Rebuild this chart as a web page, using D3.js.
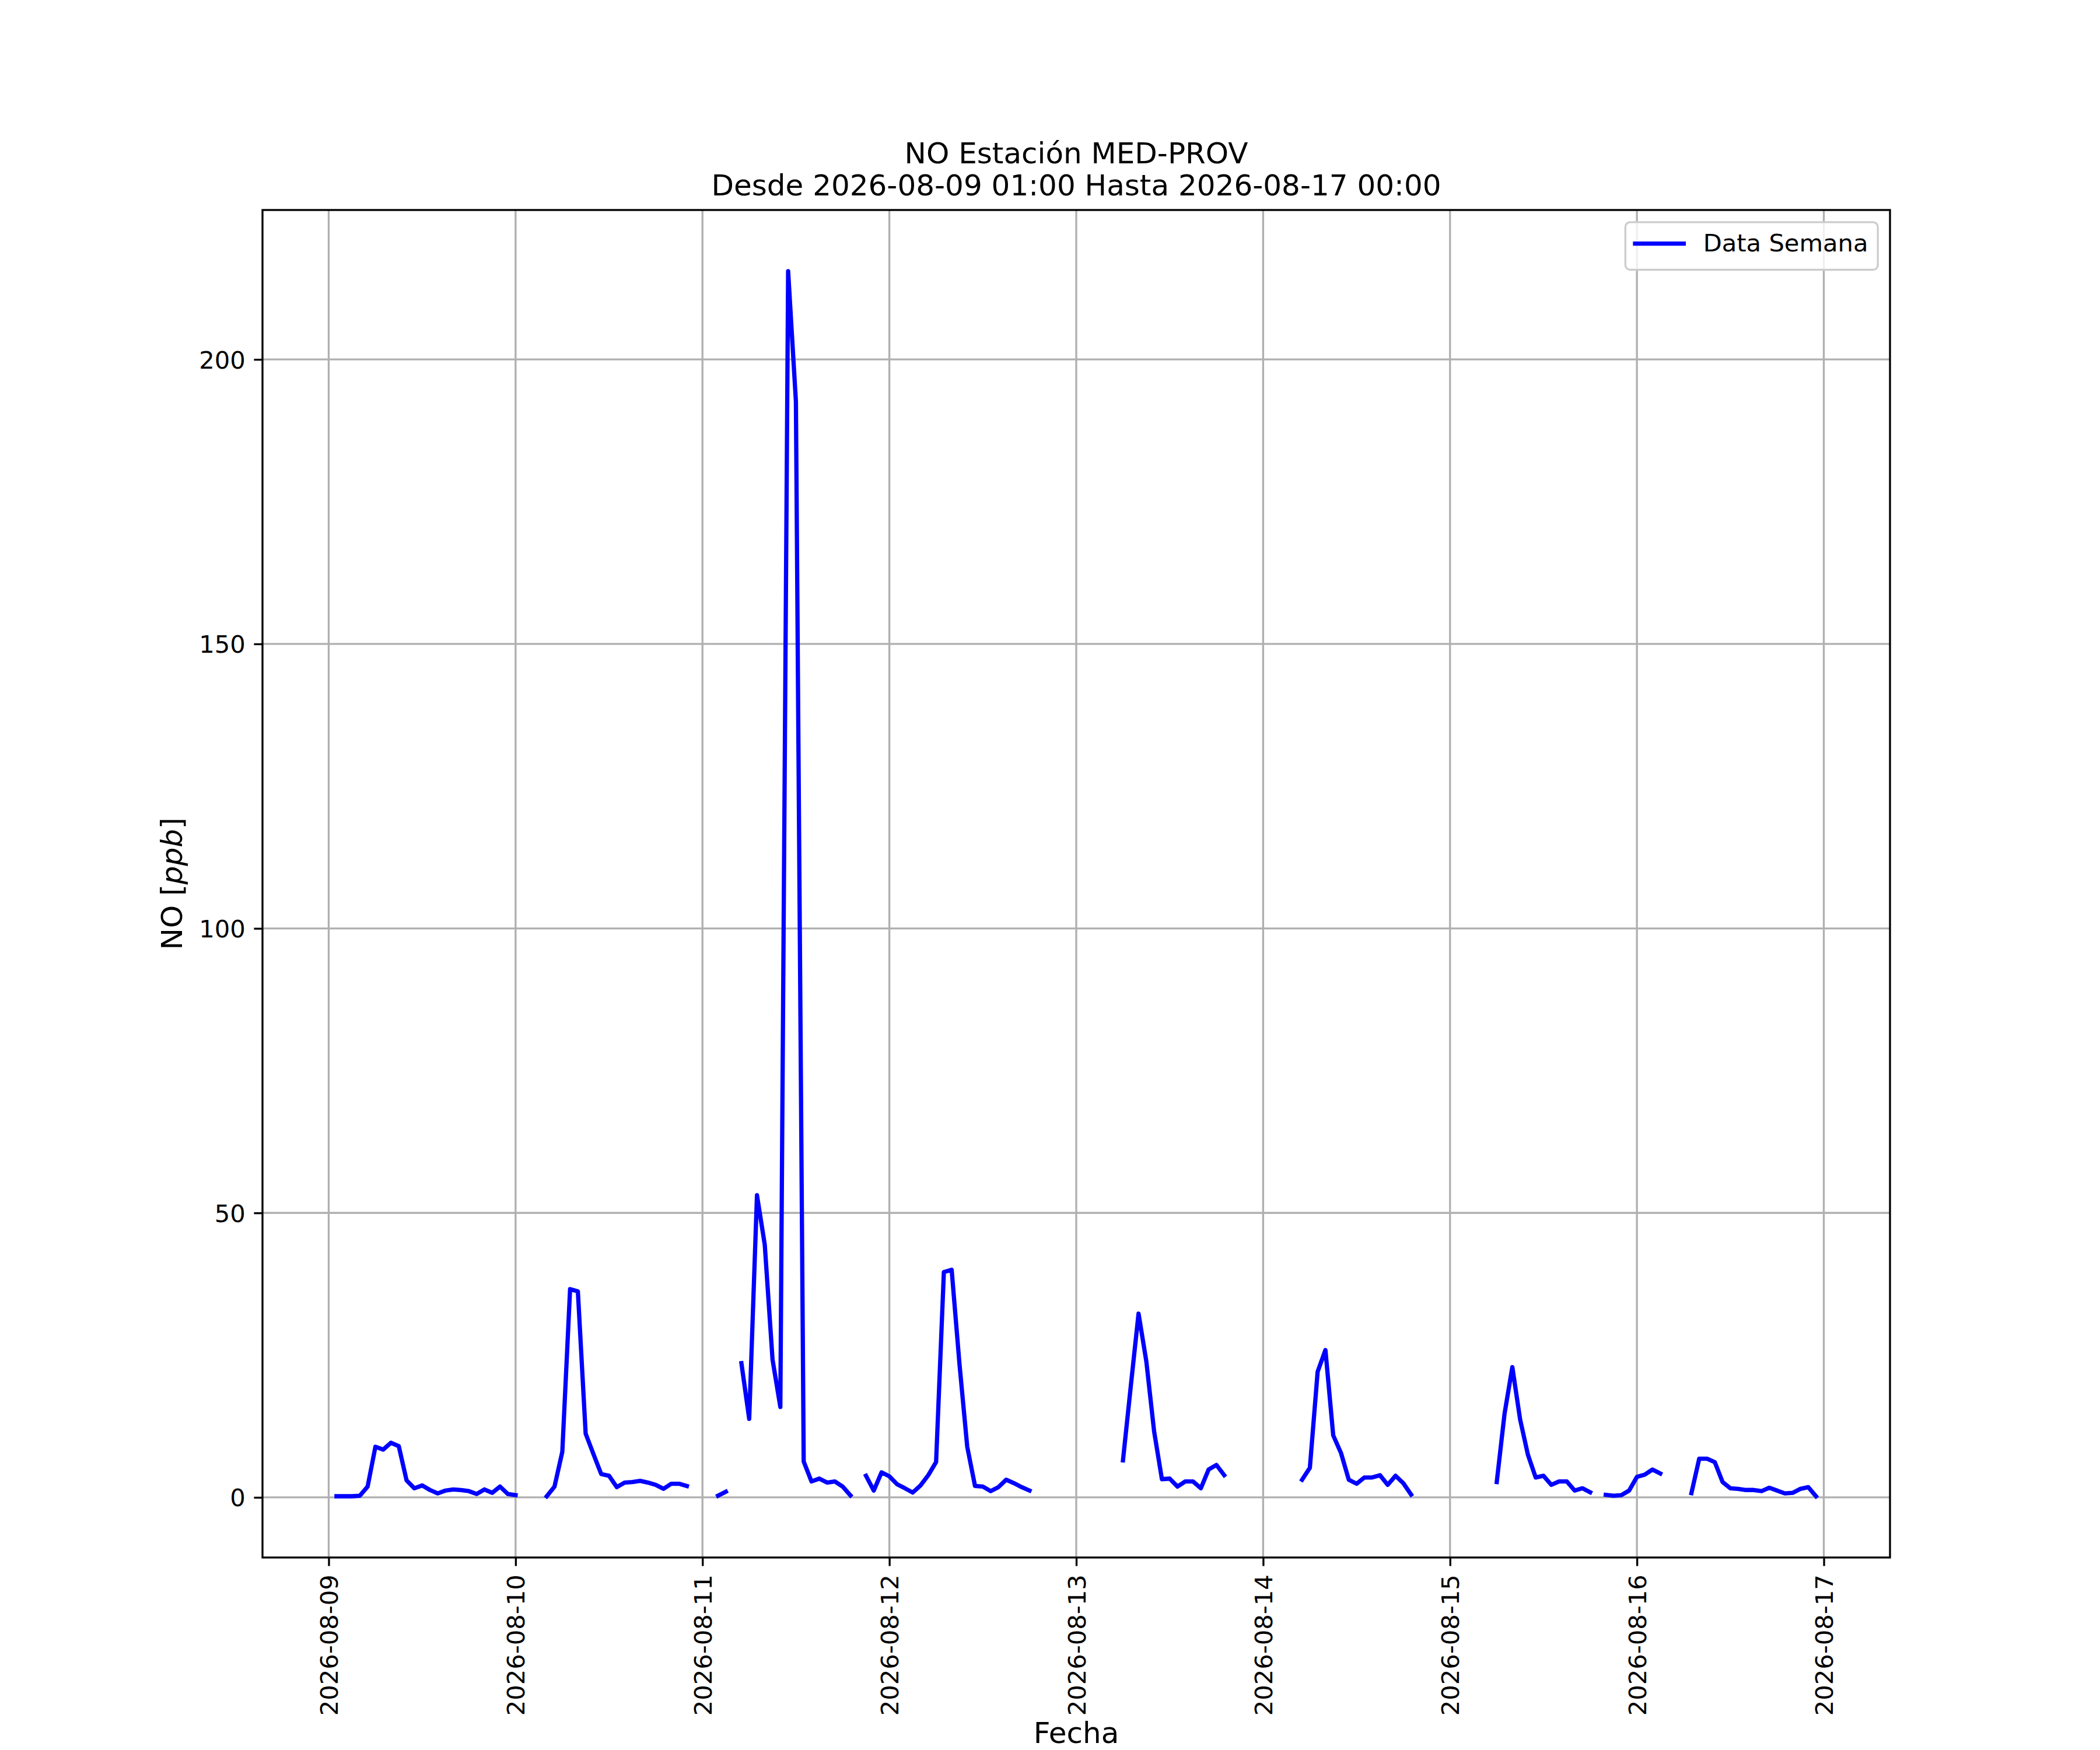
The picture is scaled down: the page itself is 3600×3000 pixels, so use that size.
<!DOCTYPE html>
<html>
<head>
<meta charset="utf-8">
<script src="https://cdn.jsdelivr.net/npm/d3@7"></script>
<style>
  html, body { margin: 0; padding: 0; background: #ffffff; }
  svg { display: block; }
</style>
</head>
<body>
<svg id="chart" width="3600" height="3000"></svg>
<script>
// ---- Data: hourly NO values (ppb), index = hour of day (0..23); null = missing ----
const day0809 = [null, 0.2, 0.2, 0.2, 0.3, 1.9, 8.9, 8.4, 9.6, 9.0, 3.0, 1.6, 2.1, 1.3, 0.7, 1.2, 1.4, 1.3, 1.1, 0.6, 1.4, 0.8, 1.9, 0.6];
const day0810 = [0.4, null, null, null, 0.2, 1.9, 8.0, 36.6, 36.2, 11.2, 7.6, 4.1, 3.8, 1.8, 2.6, 2.7, 2.9, 2.6, 2.2, 1.5, 2.4, 2.4, 2.0, null];
const day0811 = [null, null, 0.3, 1.0, null, 23.6, 13.8, 53.1, 44.4, 24.2, 15.9, 215.5, 192.6, 6.3, 2.8, 3.3, 2.6, 2.8, 1.9, 0.35, null, 3.8, 1.2, 4.4];
const day0812 = [3.7, 2.3, 1.6, 0.85, 2.1, 3.9, 6.2, 39.6, 40.0, 23.5, 8.9, 2.0, 1.9, 1.1, 1.8, 3.1, 2.5, 1.8, 1.2, null, null, null, null, null];
const day0813 = [null, null, null, null, null, null, 6.5, 19.5, 32.3, 23.9, 11.6, 3.2, 3.3, 1.9, 2.8, 2.8, 1.6, 4.9, 5.7, 3.9, null, null, null, null];
const day0814 = [null, null, null, null, null, 3.1, 5.2, 22.1, 25.9, 10.9, 7.8, 3.1, 2.4, 3.5, 3.5, 3.9, 2.2, 3.8, 2.5, 0.5, null, null, null, null];
const day0815 = [null, null, null, null, null, null, 2.7, 14.7, 22.9, 13.7, 7.5, 3.5, 3.8, 2.2, 2.8, 2.8, 1.2, 1.6, 0.9, null, 0.45, 0.3, 0.4, 1.2];
const day0816 = [3.6, 4.0, 4.9, 4.2, null, null, null, 0.75, 6.8, 6.8, 6.2, 2.7, 1.6, 1.5, 1.3, 1.3, 1.1, 1.7, 1.2, 0.7, 0.8, 1.5, 1.8, 0.2];

const dayDates = ["2026-08-09", "2026-08-10", "2026-08-11", "2026-08-12", "2026-08-13", "2026-08-14", "2026-08-15", "2026-08-16"];
const dayValues = [day0809, day0810, day0811, day0812, day0813, day0814, day0815, day0816];

const yTickValues = [0, 50, 100, 150, 200];
const xTickLabels = ["2026-08-09", "2026-08-10", "2026-08-11", "2026-08-12", "2026-08-13", "2026-08-14", "2026-08-15", "2026-08-16", "2026-08-17"];

const titleLines = ["NO Estación MED-PROV", "Desde 2026-08-09 01:00 Hasta 2026-08-17 00:00"];
const xLabel = "Fecha";
const legendLabel = "Data Semana";
const seriesStart = "2026-08-09T01:00:00Z";
const seriesEnd = "2026-08-16T23:00:00Z";

(function () {
// ---- Build the series ----
const parseDay = d3.utcParse("%Y-%m-%d");
const startT = new Date(seriesStart), endT = new Date(seriesEnd);
const series = [];
dayDates.forEach((ds, i) => {
  const base = parseDay(ds);
  dayValues[i].forEach((v, h) => {
    const t = d3.utcHour.offset(base, h);
    if (t >= startT && t <= endT) series.push({ t, v });
  });
});

// ---- Layout (figure 12x10 in @ 300 dpi) ----
const W = 3600, H = 3000;
const pt = 300 / 72;
const pL = 0.125 * W, pR = 0.9 * W, pT = 0.12 * H, pB = 0.89 * H;
const fsTick = 10 * pt, fsLabel = 12 * pt, fsTitle = 12 * pt, fsLegend = 10 * pt;
const lwAxis = 0.8 * pt, tickLen = 3.5 * pt, tickPad = 3.5 * pt;
const font = "'DejaVu Sans', sans-serif";

// matplotlib-like 5% margins
const tSpan = endT - startT;
const x = d3.scaleUtc()
  .domain([new Date(+startT - 0.05 * tSpan), new Date(+endT + 0.05 * tSpan)])
  .range([pL, pR]);
const vals = series.filter(d => d.v != null).map(d => d.v);
const vMin = d3.min(vals), vMax = d3.max(vals), vSpan = vMax - vMin;
const y = d3.scaleLinear()
  .domain([vMin - 0.05 * vSpan, vMax + 0.05 * vSpan])
  .range([pB, pT]);

const svg = d3.select("#chart");
svg.append("rect").attr("width", W).attr("height", H).attr("fill", "#ffffff");

const xTicks = xTickLabels.map(s => parseDay(s));

// ---- Grid ----
const grid = svg.append("g").attr("class", "grid");
grid.selectAll("line.gx").data(xTicks).join("line")
  .attr("x1", d => x(d)).attr("x2", d => x(d))
  .attr("y1", pT).attr("y2", pB)
  .attr("stroke", "#b0b0b0").attr("stroke-width", lwAxis);
grid.selectAll("line.gy").data(yTickValues).join("line")
  .attr("x1", pL).attr("x2", pR)
  .attr("y1", d => y(d)).attr("y2", d => y(d))
  .attr("stroke", "#b0b0b0").attr("stroke-width", lwAxis);

// ---- Data line ----
svg.append("clipPath").attr("id", "plotclip")
  .append("rect").attr("x", pL).attr("y", pT).attr("width", pR - pL).attr("height", pB - pT);
const line = d3.line()
  .defined(d => d.v != null)
  .x(d => x(d.t))
  .y(d => y(d.v));
svg.append("path")
  .datum(series)
  .attr("clip-path", "url(#plotclip)")
  .attr("d", line)
  .attr("fill", "none")
  .attr("stroke", "#0000ff")
  .attr("stroke-width", 7.3)
  .attr("stroke-linejoin", "round")
  .attr("stroke-linecap", "square");

// ---- Spines ----
svg.append("rect")
  .attr("x", pL).attr("y", pT).attr("width", pR - pL).attr("height", pB - pT)
  .attr("fill", "none").attr("stroke", "#000000").attr("stroke-width", lwAxis);

// ---- X axis ----
const xAxis = d3.axisBottom(x)
  .tickValues(xTicks)
  .tickFormat(d3.utcFormat("%Y-%m-%d"))
  .tickSize(tickLen)
  .tickSizeOuter(0)
  .tickPadding(tickPad);
const gx = svg.append("g").attr("transform", `translate(0,${pB})`).call(xAxis);
gx.select(".domain").remove();
gx.selectAll(".tick line").attr("stroke", "#000").attr("stroke-width", lwAxis);
gx.selectAll(".tick text")
  .attr("font-family", font).attr("font-size", fsTick).attr("fill", "#000")
  .attr("text-anchor", "end")
  .attr("dy", null)
  .attr("y", null).attr("x", null)
  .attr("transform", `translate(${0.36 * fsTick},${tickLen + tickPad}) rotate(-90)`);

// ---- Y axis ----
const yAxis = d3.axisLeft(y)
  .tickValues(yTickValues)
  .tickFormat(d3.format("d"))
  .tickSize(tickLen)
  .tickSizeOuter(0)
  .tickPadding(tickPad);
const gy = svg.append("g").attr("transform", `translate(${pL},0)`).call(yAxis);
gy.select(".domain").remove();
gy.selectAll(".tick line").attr("stroke", "#000").attr("stroke-width", lwAxis);
gy.selectAll(".tick text")
  .attr("font-family", font).attr("font-size", fsTick).attr("fill", "#000")
  .attr("dy", "0.36em");

// ---- Axis labels ----
svg.append("text")
  .attr("x", (pL + pR) / 2).attr("y", 2988)
  .attr("text-anchor", "middle")
  .attr("font-family", font).attr("font-size", fsLabel).attr("fill", "#000")
  .text(xLabel);

const yl = svg.append("text")
  .attr("transform", `translate(312,${(pT + pB) / 2}) rotate(-90)`)
  .attr("text-anchor", "middle")
  .attr("font-family", font).attr("font-size", fsLabel).attr("fill", "#000");
yl.append("tspan").text("NO [");
yl.append("tspan").attr("font-style", "italic").text("ppb");
yl.append("tspan").text("]");

// ---- Title ----
const titleG = svg.append("g");
titleLines.forEach((s, i) => {
  titleG.append("text")
    .attr("x", (pL + pR) / 2)
    .attr("y", pT - 6 * pt - (titleLines.length - 1 - i) * 55)
    .attr("text-anchor", "middle")
    .attr("font-family", font).attr("font-size", fsTitle).attr("fill", "#000")
    .text(s);
});

// ---- Legend ----
const lg = svg.append("g");
const lgRect = lg.append("rect");
const lgText = lg.append("text")
  .attr("font-family", font).attr("font-size", fsLegend).attr("fill", "#000")
  .text(legendLabel);
const textW = lgText.node().getComputedTextLength();
const f = fsLegend;
const boxW = 0.4 * f + 2.0 * f + 0.8 * f + textW + 0.4 * f;
const boxH = 0.4 * f + 1.16 * f + 0.4 * f;
const bx = pR - 0.5 * f - boxW, by = pT + 0.5 * f;
lgRect.attr("x", bx).attr("y", by).attr("width", boxW).attr("height", boxH)
  .attr("rx", 0.2 * f).attr("ry", 0.2 * f)
  .attr("fill", "#ffffff").attr("fill-opacity", 0.8)
  .attr("stroke", "#cccccc").attr("stroke-width", lwAxis);
const midY = by + boxH / 2 - 4;
lg.append("line")
  .attr("x1", bx + 0.4 * f).attr("x2", bx + 2.4 * f)
  .attr("y1", midY).attr("y2", midY)
  .attr("stroke", "#0000ff").attr("stroke-width", 7.3).attr("stroke-linecap", "square");
lgText.attr("x", bx + 3.2 * f).attr("y", midY).attr("dy", "0.33em");
})();
</script>
</body>
</html>
